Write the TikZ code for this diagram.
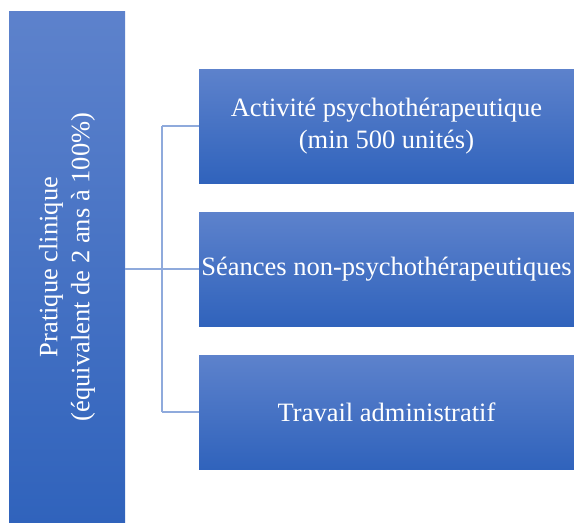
\documentclass[tikz,border=0pt]{standalone}
\usepackage{fontspec}
\setmainfont{Liberation Serif}
\usepackage{xcolor}
\usepackage{tikz}
\usetikzlibrary{positioning}
\definecolor{boxTop}{RGB}{93,130,204}
\definecolor{boxBottom}{RGB}{48,99,188}
\definecolor{connBlue}{RGB}{143,170,220}
\tikzstyle{blueBox} = [rectangle, inner sep=0pt, top color=boxTop, bottom color=boxBottom, draw=none]
\tikzstyle{boxText} = [text=white, align=center, inner sep=0pt, font=\fontsize{26.5}{32}\selectfont]
\tikzstyle{conn} = [connBlue, line width=1.2pt]
\begin{document}
\begin{tikzpicture}[x=1pt, y=-1pt]
		\useasboundingbox (0,0) rectangle (574,523);
		% nodes
		\node[blueBox, minimum width=116pt, minimum height=512pt] (pc) at (67,267) {};			% Pratique clinique
		\node[boxText, rotate=90] (pc-text) at (pc.center) {Pratique clinique\\(équivalent de 2 ans à 100\%)};
		\node[blueBox, minimum width=375pt, minimum height=114pt] (act) at (386.5,126) {};		% Activite
		\node[boxText] (act-text) at (act.center) {Activité psychothérapeutique\\(min 500 unités)};
		\node[blueBox, minimum width=375pt, minimum height=114pt] (sea) at (386.5,269) {};		% Seances
		\node[boxText] (sea-text) at (sea.center) {Séances non-psychothérapeutiques};
		\node[blueBox, minimum width=375pt, minimum height=114pt] (adm) at (386.5,412) {};		% Travail admin.
		\node[boxText] (adm-text) at (adm.center) {Travail administratif};
		\coordinate (br) at (162,269);		% Verzweigung
		
		% connectors
		\draw[conn] (pc.east |- sea.west) -- (sea.west);
		\draw[conn] (br |- act.west) -- (br |- adm.west);
		\draw[conn] (br |- act.west) -- (act.west);
		\draw[conn] (br |- adm.west) -- (adm.west);
\end{tikzpicture}
\end{document}
